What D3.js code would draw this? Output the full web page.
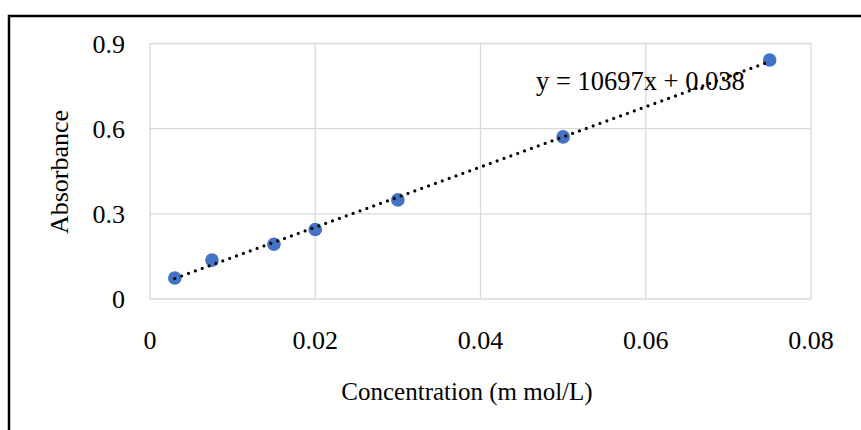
<!DOCTYPE html>
<html>
<head>
<meta charset="utf-8">
<script src="https://cdn.jsdelivr.net/npm/d3@7"></script>
<style>
  body { margin: 0; background: #fff; }
  text { font-family: "Liberation Serif", "Times New Roman", serif; fill: #000; }
</style>
</head>
<body>
<svg id="chart" width="861" height="430"></svg>
<script>
// data
const concentration = [0.003, 0.0075, 0.015, 0.02, 0.03, 0.05, 0.075];
const absorbance = [0.074, 0.137, 0.193, 0.245, 0.349, 0.571, 0.842];
const xTicks = [0, 0.02, 0.04, 0.06, 0.08];
const yTicks = [0, 0.3, 0.6, 0.9];
const equationLabel = "y = 10697x + 0.038";

const svg = d3.select('#chart');

// outer frame (only top and left edges visible)
svg.append('path')
    .attr('d', 'M9,430 V16 H861')
    .attr('fill', 'none')
    .attr('stroke', '#000')
    .attr('stroke-width', 2.5);

const x = d3.scaleLinear().domain([0, 0.08]).range([150, 811]);
const y = d3.scaleLinear().domain([0, 0.9]).range([299, 43.5]);

// gridlines
svg.append('g').selectAll('line.v')
    .data(xTicks).enter()
    .append('line')
    .attr('x1', d => x(d)).attr('x2', d => x(d))
    .attr('y1', y(0.9)).attr('y2', y(0))
    .attr('stroke', '#d9d9d9').attr('stroke-width', 1.3);

svg.append('g').selectAll('line.h')
    .data(yTicks).enter()
    .append('line')
    .attr('x1', x(0)).attr('x2', x(0.08))
    .attr('y1', d => y(d)).attr('y2', d => y(d))
    .attr('stroke', '#d9d9d9').attr('stroke-width', 1.3);

// tick labels
svg.append('g').selectAll('text')
    .data(xTicks).enter()
    .append('text')
    .attr('x', d => x(d))
    .attr('y', 349)
    .attr('text-anchor', 'middle')
    .style('font-size', '26px')
    .text(d => d3.format('')(d));

svg.append('g').selectAll('text')
    .data(yTicks).enter()
    .append('text')
    .attr('x', 125)
    .attr('y', d => y(d) + 9)
    .attr('text-anchor', 'end')
    .style('font-size', '26px')
    .text(d => d3.format('')(d));

// axis titles
svg.append('text')
    .attr('x', 467).attr('y', 400)
    .attr('text-anchor', 'middle')
    .style('font-size', '25px')
    .text('Concentration (m mol/L)');

svg.append('text')
    .attr('transform', 'translate(68,172) rotate(-90)')
    .attr('text-anchor', 'middle')
    .style('font-size', '26px')
    .text('Absorbance');

// points
const pts = concentration.map((c, i) => ({ c: c, a: absorbance[i] }));
svg.append('g').selectAll('circle')
    .data(pts).enter()
    .append('circle')
    .attr('cx', d => x(d.c))
    .attr('cy', d => y(d.a))
    .attr('r', 6.8)
    .attr('fill', '#4472c4');

// linear trendline (least squares)
const mx = d3.mean(concentration), my = d3.mean(absorbance);
let sxy = 0, sxx = 0;
pts.forEach(d => {
    sxy += (d.c - mx) * (d.a - my);
    sxx += (d.c - mx) * (d.c - mx);
});
const slope = sxy / sxx, icpt = my - slope * mx;
const xr = d3.extent(concentration);
svg.append('path')
    .datum(xr)
    .attr('d', d3.line().x(d => x(d)).y(d => y(slope * d + icpt)))
    .attr('fill', 'none')
    .attr('stroke', '#000')
    .attr('stroke-width', 3.2)
    .attr('stroke-linecap', 'round')
    .attr('stroke-dasharray', '0,7.3');

svg.append('text')
    .attr('x', 536).attr('y', 90)
    .style('font-size', '26.5px')
    .text(equationLabel);
</script>
</body>
</html>
